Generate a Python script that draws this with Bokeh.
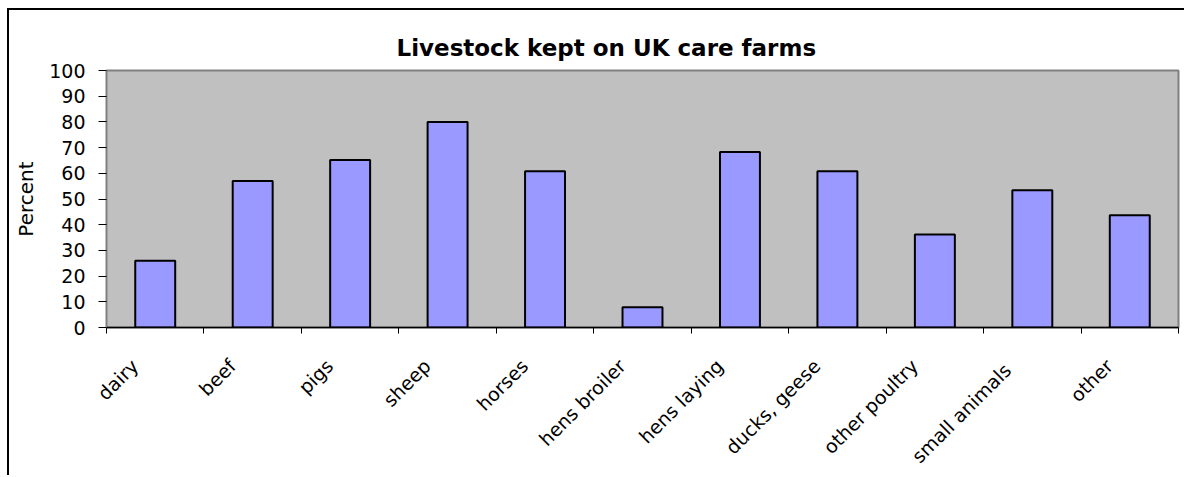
import math
from bokeh.plotting import figure
from bokeh.models import FixedTicker, Range1d, ColumnDataSource, Title
from bokeh.embed import file_html
from bokeh.resources import INLINE

categories = ["dairy", "beef", "pigs", "sheep", "horses", "hens broiler",
              "hens laying", "ducks, geese", "other poultry", "small  animals", "other"]
percent = [26, 57, 65.2, 80, 60.8, 7.9, 68.3, 60.8, 36.2, 53.4, 43.7]
y_ticks = [0, 10, 20, 30, 40, 50, 60, 70, 80, 90, 100]

xs = [i + 0.5 for i in range(len(categories))]
src = ColumnDataSource(dict(x=xs, top=percent))

FONT = "DejaVu Sans"
LABEL_SHIFT = -0.21  # rotated labels sit slightly left of the category centre

p = figure(width=1177, height=467, output_backend="svg", toolbar_location=None,
           x_range=Range1d(0, len(categories)), y_range=Range1d(0, 100),
           min_border_left=97, min_border_top=60, min_border_right=8, min_border_bottom=140,
           background_fill_color="#C0C0C0", border_fill_color="white",
           outline_line_color="#808080", outline_line_width=2)
p.styles = {"border-top": "2px solid black", "border-left": "2px solid black",
            "margin-left": "7px", "margin-top": "8px"}

p.title = Title(text="Livestock kept on UK care farms", align="left", offset=290,
                text_font=FONT, text_font_size="23px", text_font_style="bold",
                text_color="black", standoff=20)

p.vbar(x="x", top="top", width=0.41, source=src, fill_color="#9999FF",
       line_color="black", line_width=2)

p.grid.visible = False

# x axis: ticks at category boundaries, labels near centres
label_pos = [x + LABEL_SHIFT for x in xs]
xax = p.xaxis[0]
xax.ticker = FixedTicker(ticks=label_pos, minor_ticks=list(range(len(categories) + 1)))
xax.major_label_overrides = {x: c for x, c in zip(label_pos, categories)}
xax.major_tick_in = 0
xax.major_tick_out = 0
xax.minor_tick_in = 0
xax.minor_tick_out = 6
xax.minor_tick_line_color = "black"
xax.axis_line_color = "black"
xax.axis_line_width = 1.5
xax.major_label_orientation = math.pi / 4
xax.major_label_text_font = FONT
xax.major_label_text_font_size = "19px"
xax.major_label_text_color = "black"
xax.major_label_standoff = 29

yax = p.yaxis[0]
yax.ticker = FixedTicker(ticks=y_ticks)
yax.minor_tick_line_color = None
yax.major_tick_in = 0
yax.major_tick_out = 8
yax.major_tick_line_color = "black"
yax.axis_line_color = "#808080"
yax.major_label_text_font = FONT
yax.major_label_text_font_size = "19px"
yax.major_label_text_color = "black"
yax.major_label_standoff = 13
yax.axis_label = "Percent"
yax.axis_label_text_font = FONT
yax.axis_label_text_font_size = "20px"
yax.axis_label_text_font_style = "normal"
yax.axis_label_text_color = "black"
yax.axis_label_standoff = 8

open("out.html", "w").write(file_html(p, INLINE))
